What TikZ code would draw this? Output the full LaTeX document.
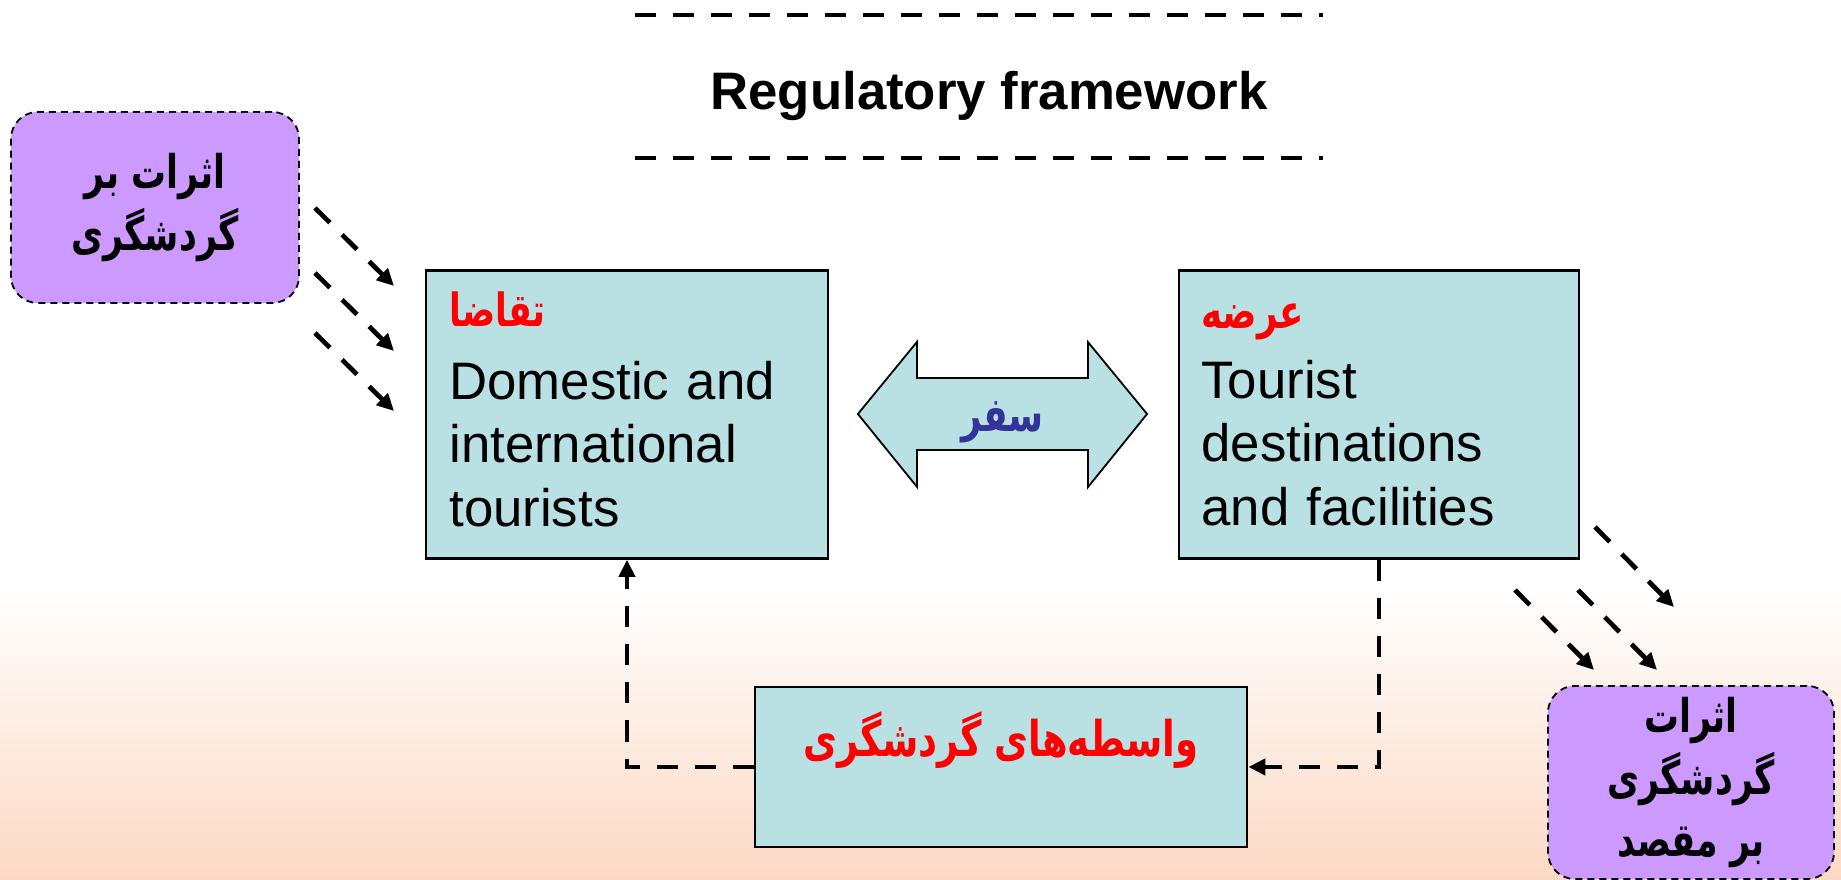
\documentclass[tikz,border=0pt]{standalone}
\usepackage{fontspec}
\setmainfont{Liberation Sans}
\newfontfamily\fa[Script=Arabic, FakeStretch=0.75]{DejaVu Sans}
\TeXXeTstate=1
\usetikzlibrary{arrows.meta}
\definecolor{boxblue}{RGB}{185,224,227}
\definecolor{impactpurple}{RGB}{204,153,255}
\definecolor{peach}{RGB}{252,217,196}
\definecolor{travelblue}{RGB}{51,51,153}

\begin{document}
\begin{tikzpicture}[
    x=0.01cm, y=-0.01cm,
    font=\fontsize{15}{18}\selectfont,
    sidebox/.style={rectangle, draw=black, line width=0.025cm, fill=boxblue,
                    minimum width=4.02cm, minimum height=2.88cm,
                    inner xsep=0.22cm, text width=3.55cm, align=left},
    agentbox/.style={rectangle, draw=black, line width=0.025cm, fill=boxblue,
                     minimum width=4.92cm, minimum height=1.6cm,
                     text depth=0.66cm, font=\fontsize{14}{17}\selectfont},
    impactbox/.style={rectangle, rounded corners=0.27cm, fill=impactpurple,
                      draw=black, line width=0.018cm, dash pattern=on 0.07cm off 0.05cm,
                      align=center, font=\fontsize{13.2}{17.5}\selectfont},
    flow/.style={line width=0.047cm, dash pattern=on 0.21cm off 0.17cm,
                 -{Triangle[length=0.17cm, width=0.16cm]}},
    rule/.style={line width=0.047cm, dash pattern=on 0.21cm off 0.17cm}
]
% --- background ---
\useasboundingbox (0,0) rectangle (1841,880);
\fill[white] (0,0) rectangle (1841,880);
\shade[top color=white, bottom color=peach] (0,590) rectangle (1841,880);
% --- Regulatory framework ---
\node[anchor=base, font=\fontsize{15}{18}\selectfont\bfseries] (regulation) at (989,110) {Regulatory framework};
\coordinate (rtl) at (635,15);
\coordinate (rtr) at (1323,15);
\coordinate (rbl) at (635,158);
\coordinate (rbr) at (1323,158);
\draw[rule] (rtl) -- (rtr);
\draw[rule] (rbl) -- (rbr);
% --- Demand / supply ---
\node[sidebox] (demand) at (627,414.5)
    {{\fontsize{13}{16}\selectfont\color{red}\fa\bfseries\beginR تقاضا\endR}\\[0.094cm]
     Domestic and\\international\\tourists\rule[-0.11cm]{0pt}{0.11cm}};
\node[sidebox, minimum width=4.0cm] (supply) at (1379,414.5)
    {{\fontsize{13.5}{16}\selectfont\color{red}\fa\bfseries\beginR عرضه\endR}\\[0.07cm]
     Tourist\\destinations\\and facilities};
% --- Travel ---
\coordinate (travel) at (1002.5,414);
\draw[fill=boxblue, line width=0.018cm]
    ([xshift=-1.445cm]travel) -- ++(59,-72) -- ++(0,36) -- ++(171,0) -- ++(0,-36)
    -- ([xshift=1.445cm]travel) -- ++(-59,73) -- ++(0,-37) -- ++(-171,0) -- ++(0,37) -- cycle;
\node[text=travelblue, font=\fontsize{13.5}{16}\selectfont] (travellabel) at ([yshift=-0.08cm]travel) {\fa\bfseries\beginR سفر\endR};
% --- Intermediaries ---
\node[agentbox] (agents) at (1001,767) {{\color{red}\fa\bfseries\beginR واسطه‌های گردشگری\endR}};
% --- Impacts ---
\node[impactbox, minimum width=2.88cm, minimum height=1.91cm] (origin) at (155,207.5)
    {\fa\bfseries\beginR اثرات بر\endR\\\fa\bfseries\beginR گردشگری\endR};
\node[impactbox, minimum width=2.86cm, minimum height=1.89cm] (destination) at (1691,782.5)
    {\fa\bfseries\beginR اثرات\endR\\\fa\bfseries\beginR گردشگری\endR\\\fa\bfseries\beginR بر مقصد\endR};
% --- Flows ---
\draw[flow] (agents.west) -| (demand.south);
\draw[flow] (supply.south) |- (agents.east);
\foreach \yy in {208,273,333} {
    \coordinate (in\yy) at (315,\yy);
    \draw[flow] (in\yy) -- ++(79,78);
}
\foreach \xx/\yy in {1595/527, 1515/590, 1578/590} {
    \coordinate (out\xx) at (\xx,\yy);
    \draw[flow] (out\xx) -- ++(79,80);
}
\end{tikzpicture}
\end{document}
